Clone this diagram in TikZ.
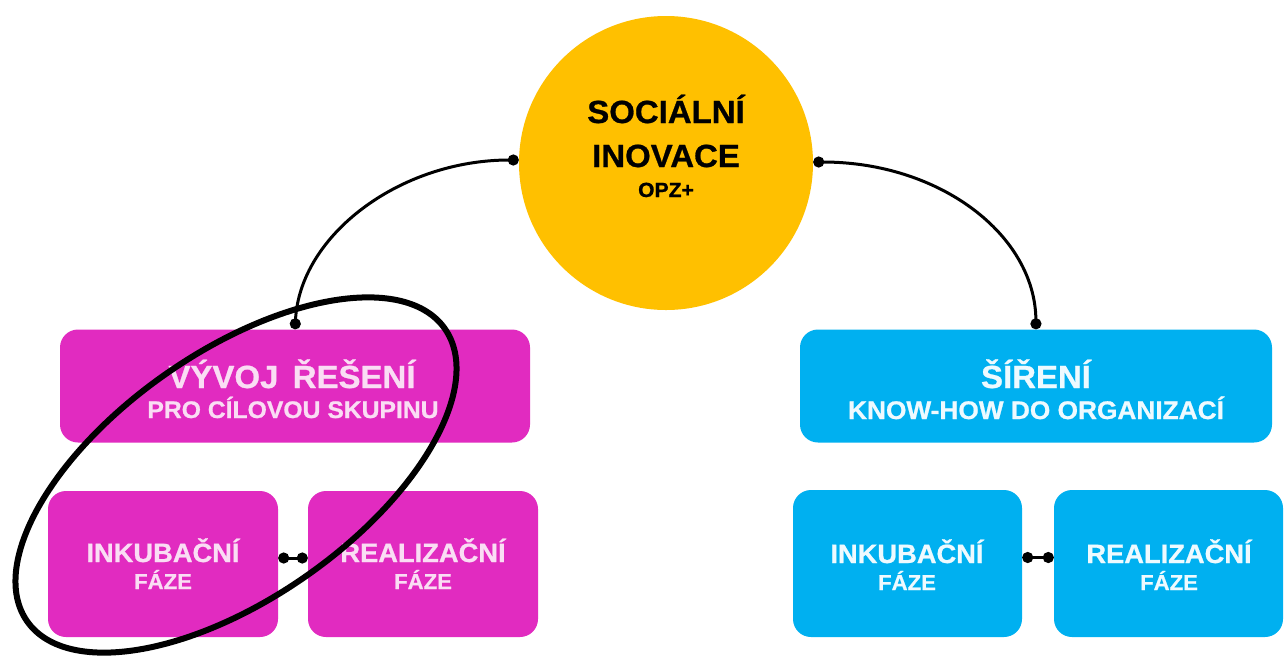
\documentclass[tikz,border=0pt]{standalone}
\usepackage{fontspec}
\setmainfont[FakeStretch=1.03, BoldFeatures={FakeBold=0.8}]{Liberation Sans}
\usetikzlibrary{arrows.meta}
\definecolor{socyellow}{HTML}{FFC000}
\definecolor{mag}{HTML}{E12BC0}
\definecolor{cyanbox}{HTML}{00B0F0}
\definecolor{magtext}{HTML}{FADDF4}
\definecolor{cyantext}{HTML}{EEFAFF}
\tikzset{
  boxbase/.style={rounded corners=18pt, inner sep=0pt},
  magbox/.style={boxbase, fill=mag},
  cyanboxst/.style={boxbase, fill=cyanbox},
  txt/.style={anchor=base, inner sep=0pt, font=\bfseries},
  magtxt/.style={txt, text=magtext},
  cyantxt/.style={txt, text=cyantext},
  conn/.style={line width=3pt, black, {Circle[length=11pt]}-{Circle[length=11pt]}},
}
\newcommand{\fbig}{\fontsize{32}{36}\selectfont}
\newcommand{\fsmall}{\fontsize{20.5}{24}\selectfont}
\newcommand{\fhead}{\fontsize{32}{36}\selectfont}
\newcommand{\fphase}{\fontsize{26.5}{30}\selectfont}
\newcommand{\ffaze}{\fontsize{21.5}{25}\selectfont}
\begin{document}
\begin{tikzpicture}[x=1pt,y=-1pt]
\useasboundingbox (0,0) rectangle (1284,657);
\fill[white] (0,0) rectangle (1284,657);

% central circle
\node[circle, fill=socyellow, minimum size=294pt, inner sep=0pt] (soc) at (666,163) {};
\node[txt] (soc1) at (666,123) {\fbig SOCIÁLNÍ};
\node[txt] (soc2) at (666,167) {\fbig INOVACE};
\node[txt] (soc3) at (666,197) {\fsmall OPZ+};

% left (magenta) branch
\node[magbox, minimum width=470pt, minimum height=113pt] (vyv) at (295,386) {};
\node[magtxt] (vyv1) at (292,388) {\fhead VÝVOJ\hspace{0.45em}ŘEŠENÍ};
\node[magtxt] (vyv2) at (293,418) {\fontsize{24}{26}\selectfont PRO CÍLOVOU SKUPINU};
\node[magbox, minimum width=230pt, minimum height=146pt] (ink1) at (163,564) {};
\node[magtxt] (ink1a) at (163,562) {\fphase INKUBAČNÍ};
\node[magtxt] (ink1b) at (163,589) {\ffaze FÁZE};
\node[magbox, minimum width=230pt, minimum height=146pt] (real1) at (423,564) {};
\node[magtxt] (real1a) at (423,562) {\fphase REALIZAČNÍ};
\node[magtxt] (real1b) at (423,589) {\ffaze FÁZE};

% right (blue) branch
\node[cyanboxst, minimum width=472pt, minimum height=113pt] (sir) at (1036,386) {};
\node[cyantxt] (sir1) at (1036,388) {\fhead ŠÍŘENÍ};
\node[cyantxt] (sir2) at (1036,419) {\fontsize{25.5}{28}\selectfont KNOW-HOW DO ORGANIZACÍ};
\node[cyanboxst, minimum width=229pt, minimum height=147pt] (ink2) at (907.5,563.5) {};
\node[cyantxt] (ink2a) at (907,563) {\fphase INKUBAČNÍ};
\node[cyantxt] (ink2b) at (907,590) {\ffaze FÁZE};
\node[cyanboxst, minimum width=229pt, minimum height=147pt] (real2) at (1168.5,563.5) {};
\node[cyantxt] (real2a) at (1169,563) {\fphase REALIZAČNÍ};
\node[cyantxt] (real2b) at (1169,590) {\ffaze FÁZE};

% connectors
\draw[conn] ([yshift=3pt]soc.west) .. controls (400,160) and (300,235) .. (vyv.north);
\draw[conn] ([yshift=1pt]soc.east) .. controls (940,162) and (1035,235) .. (sir.north);
\draw[conn] ([yshift=6pt]ink1.east) -- ([yshift=6pt]real1.west);
\draw[conn] ([yshift=6pt]ink2.east) -- ([yshift=6pt]real2.west);

% highlight ellipse
\coordinate (ellc) at (236,475);
\draw[line width=6pt, black, rotate around={35:(ellc)}] (ellc) ellipse [x radius=255pt, y radius=123pt];
\end{tikzpicture}
\end{document}
